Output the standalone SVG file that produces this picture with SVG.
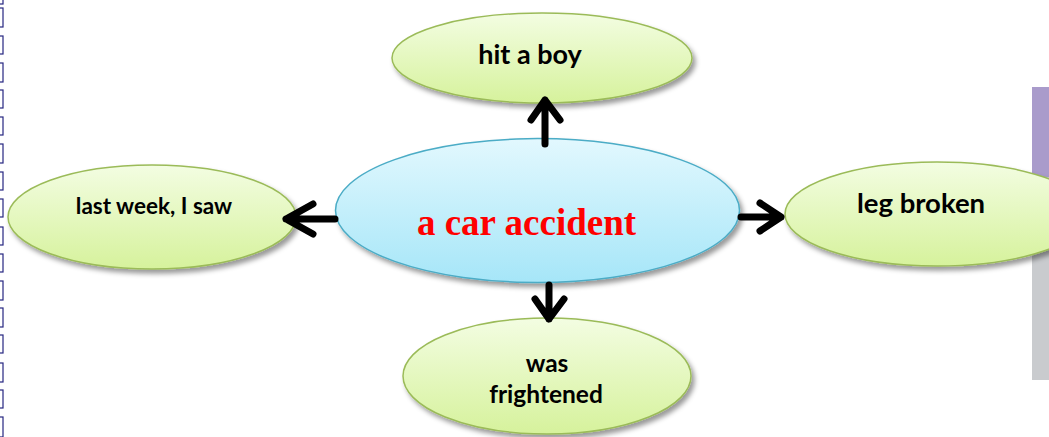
<svg xmlns="http://www.w3.org/2000/svg" width="1049" height="437" viewBox="0 0 1049 437">
<style>
.lbl{font-family:Lato,"Open Sans","Liberation Sans",sans-serif;font-weight:bold;fill:#000;text-anchor:middle}
.green{fill:url(#gGreen);stroke:#9bbb59;stroke-width:1.5;filter:url(#sh)}
.blue{fill:url(#gBlue);stroke:#4bacc6;stroke-width:1.5;filter:url(#sh)}
.conn{fill:none;stroke:#000;stroke-width:7;stroke-linecap:round;stroke-linejoin:round}
.tab{fill:#fff;stroke:#262680;stroke-width:1.2}
</style>
<defs>
<linearGradient id="gGreen" x1="0" y1="0" x2="0" y2="1">
<stop offset="0" stop-color="#f3fde2"/>
<stop offset="1" stop-color="#d6f29c"/>
</linearGradient>
<linearGradient id="gBlue" x1="0" y1="0" x2="0" y2="1">
<stop offset="0" stop-color="#e2f8fe"/>
<stop offset="1" stop-color="#a6e6f8"/>
</linearGradient>
<filter id="sh" x="-10%" y="-10%" width="125%" height="135%">
<feDropShadow dx="3" dy="4" stdDeviation="2.5" flood-color="#000" flood-opacity="0.4"/>
</filter>
</defs>
<rect width="1049" height="437" fill="#fff"/>
<g id="side-tabs">
<rect class="tab" x="-2" y="-12" width="5" height="16"/>
<rect class="tab" x="-2" y="8" width="5" height="19"/>
<rect class="tab" x="-2" y="36" width="5" height="18"/>
<rect class="tab" x="-2" y="63" width="5" height="19"/>
<rect class="tab" x="-2" y="90" width="5" height="18"/>
<rect class="tab" x="-2" y="117" width="5" height="18"/>
<rect class="tab" x="-2" y="144" width="5" height="19"/>
<rect class="tab" x="-2" y="172" width="5" height="18"/>
<rect class="tab" x="-2" y="199" width="5" height="18"/>
<rect class="tab" x="-2" y="227" width="5" height="18"/>
<rect class="tab" x="-2" y="254" width="5" height="18"/>
<rect class="tab" x="-2" y="281" width="5" height="19"/>
<rect class="tab" x="-2" y="308" width="5" height="19"/>
<rect class="tab" x="-2" y="335" width="5" height="18"/>
<rect class="tab" x="-2" y="363" width="5" height="19"/>
<rect class="tab" x="-2" y="390" width="5" height="18"/>
<rect class="tab" x="-2" y="417" width="5" height="20"/>
</g>
<g id="side-bar">
<rect x="1032" y="87" width="17" height="90" fill="#a99bcb"/>
<rect x="1032" y="177" width="17" height="203" fill="#c9cbce"/>
</g>
<g id="node-top">
<ellipse class="green" cx="542" cy="58" rx="150" ry="45"/>
<text class="lbl" x="530" y="64" font-size="27">hit a boy</text>
</g>
<g id="node-left">
<ellipse class="green" cx="152" cy="217" rx="144" ry="52"/>
<text class="lbl" x="154" y="214" font-size="22.5">last week, I saw</text>
</g>
<g id="node-right">
<ellipse class="green" cx="937" cy="214" rx="152" ry="52"/>
<text class="lbl" x="921" y="213" font-size="27.5">leg broken</text>
</g>
<g id="node-bottom">
<ellipse class="green" cx="547" cy="376" rx="144" ry="58"/>
<text class="lbl" x="547" y="372" font-size="24.5">was</text>
<text class="lbl" x="546" y="403" font-size="24.5">frightened</text>
</g>
<g id="node-center">
<ellipse class="blue" cx="537.5" cy="210.5" rx="202" ry="72"/>
<text x="526.5" y="235" font-family="'Liberation Serif','Times New Roman',serif" font-weight="bold" font-size="37" fill="#ff0000" text-anchor="middle">a car accident</text>
</g>
<g id="connectors">
<path class="conn" d="M545 144 V100 M531 120 L545 100 L560 120"/>
<path class="conn" d="M549 285 V319 M535 299 L549 319 L564 299"/>
<path class="conn" d="M335 219 H286 M313 204 L286 219 L313 234"/>
<path class="conn" d="M741 217 H781 M760 203 L781 217 L760 231"/>
</g>
</svg>
